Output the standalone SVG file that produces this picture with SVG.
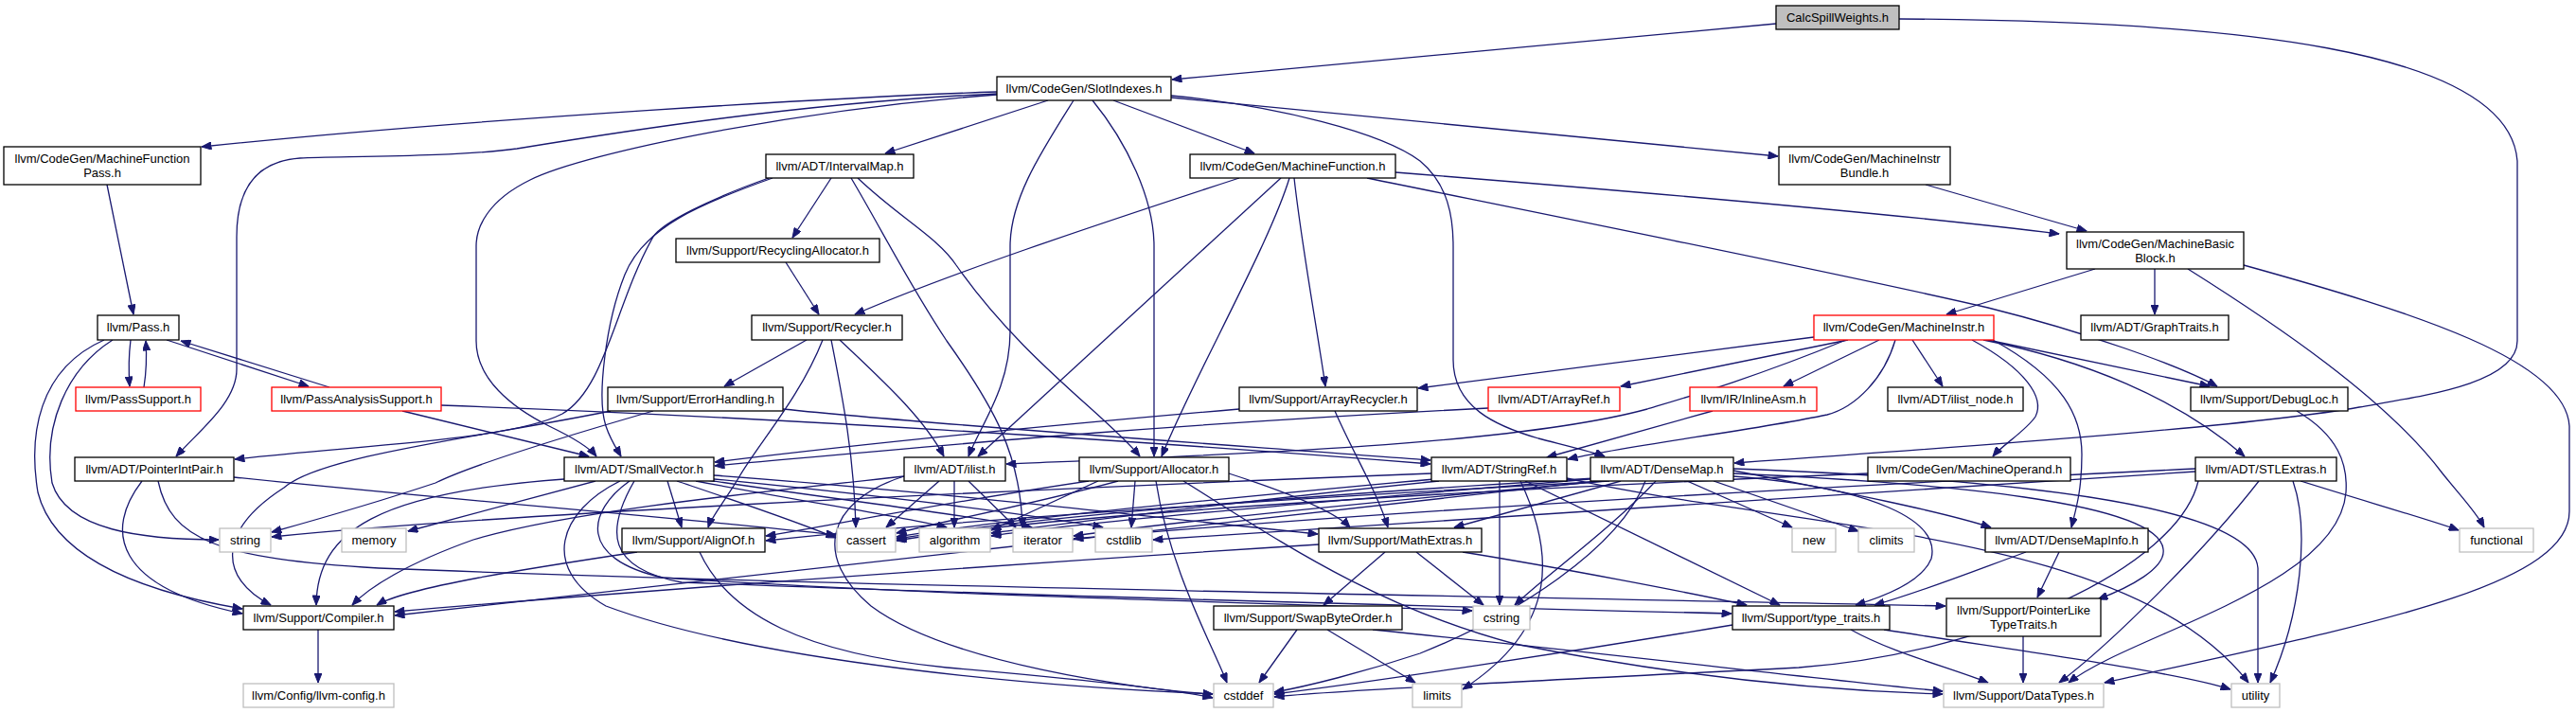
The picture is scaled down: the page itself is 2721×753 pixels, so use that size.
<svg xmlns="http://www.w3.org/2000/svg" width="2721" height="753" viewBox="0 0 2721 753">
<style>
.n rect{fill:#fff;stroke:#000;stroke-width:1.3}
.r rect{fill:#fff;stroke:#ff0000;stroke-width:1.3}
.g rect{fill:#fff;stroke:#bfbfbf;stroke-width:1.3}
.s rect{fill:#bfbfbf;stroke:#000;stroke-width:1.3}
text{font-family:"Liberation Sans",Arial,sans-serif;font-size:13px;text-anchor:middle;fill:#000}
#edges path{fill:none;stroke:#191970;stroke-width:1.3;marker-end:url(#ah)}
</style>
<defs>
<marker id="ah" viewBox="0 0 10 8" refX="10" refY="4" markerWidth="11" markerHeight="8" markerUnits="userSpaceOnUse" orient="auto"><path d="M0,0L10,4L0,8z" fill="#191970" stroke="#191970"/></marker>
</defs>
<rect width="2721" height="753" fill="#fff"/>
<g id="edges">
<path d="M1876,25 C1600,50 1400,68 1238,84"/>
<path d="M2006,20 C2350,22 2650,50 2659,170 L2659,360 C2659,405 2560,418 2492,430 C2380,450 2100,470 1832,489"/>
<path d="M1053,97 C900,102 500,125 213,155"/>
<path d="M1053,99 C850,108 650,140 546,157 C480,166 360,165 317,167 C270,170 250,200 250,250 L250,390 C250,425 210,455 186,482"/>
<path d="M1053,100 C850,115 620,160 560,190 C515,212 503,240 503,260 L503,360 C503,400 540,430 580,450 C605,462 622,472 630,482"/>
<path d="M1107,106 L935,162"/>
<path d="M1134,106 C1100,160 1067,210 1067,260 L1067,350 C1067,410 1035,450 1023,482"/>
<path d="M1154,106 C1190,150 1219,210 1219,260 L1219,482"/>
<path d="M1176,106 L1325,162"/>
<path d="M1237,101 C1350,112 1460,140 1500,170 C1530,195 1535,230 1535,260 L1535,380 C1535,430 1580,450 1625,463 C1660,472 1685,478 1695,482"/>
<path d="M1237,103 C1500,128 1700,148 1878,165"/>
<path d="M113,195 L141,332"/>
<path d="M878,188 L837,251"/>
<path d="M816,188 C740,215 680,240 660,290 C640,340 630,420 640,450 C645,465 652,475 656,482"/>
<path d="M812,188 C750,210 700,235 690,250 C650,320 640,410 594,437 C540,465 380,470 248,485"/>
<path d="M906,188 C950,230 990,250 1010,280 C1080,380 1170,440 1204,482"/>
<path d="M899,188 C930,240 960,300 1000,360 C1050,430 1078,480 1080,557"/>
<path d="M1309,188 C1150,240 1000,290 903,332"/>
<path d="M1353,188 L1033,482"/>
<path d="M1362,188 C1340,260 1260,400 1227,482"/>
<path d="M1367,188 C1375,260 1390,340 1400,408"/>
<path d="M1474,182 C1700,200 2000,225 2175,247"/>
<path d="M1444,188 C1650,230 1950,290 2100,325 C2200,350 2300,385 2342,408"/>
<path d="M2034,195 L2204,244"/>
<path d="M830,277 L865,332"/>
<path d="M138,359 C136,375 136,395 137,408"/>
<path d="M152,409 C155,390 155,375 154,360"/>
<path d="M176,359 L326,408"/>
<path d="M348,409 L191,360"/>
<path d="M119,359 C70,390 45,450 55,510 C70,560 150,570 231,570"/>
<path d="M110,359 C40,390 30,460 40,520 C60,600 180,630 256,643"/>
<path d="M425,434 L622,482"/>
<path d="M466,428 C800,440 1200,465 1511,490"/>
<path d="M827,432 C1000,450 1300,470 1511,486"/>
<path d="M645,434 C520,460 340,480 300,515 C230,560 230,610 286,639"/>
<path d="M690,434 C600,460 500,490 460,510 C400,530 330,550 287,562"/>
<path d="M852,359 L765,408"/>
<path d="M869,359 C845,420 800,470 780,505 C765,530 752,545 748,557"/>
<path d="M878,359 C890,420 902,480 904,557"/>
<path d="M887,359 C930,400 975,440 997,482"/>
<path d="M1309,432 C1100,450 900,470 755,488"/>
<path d="M1572,431 C1200,450 1000,470 755,492"/>
<path d="M1410,434 C1430,480 1455,520 1466,557"/>
<path d="M1916,356 L1498,410"/>
<path d="M1952,359 L1712,408"/>
<path d="M1985,359 L1884,408"/>
<path d="M2020,359 L2052,408"/>
<path d="M1950,359 C1850,400 1780,420 1740,432 C1600,470 1300,480 1063,490"/>
<path d="M2002,359 C1990,400 1960,430 1930,438 C1850,455 1720,470 1656,485"/>
<path d="M2083,359 C2140,390 2160,420 2150,440 C2140,455 2115,470 2105,482"/>
<path d="M2105,359 C2180,400 2199,440 2199,480 C2199,520 2192,540 2188,557"/>
<path d="M2090,357 L2334,408"/>
<path d="M2095,359 C2200,380 2300,420 2371,482"/>
<path d="M2213,284 L2056,332"/>
<path d="M2276,284 L2276,332"/>
<path d="M2311,284 C2400,340 2520,420 2580,500 C2600,525 2615,540 2624,557"/>
<path d="M2370,280 C2550,330 2710,380 2714,450 L2714,540 C2714,620 2500,660 2223,721"/>
<path d="M2426,434 C2470,460 2480,490 2478,520 C2470,620 2250,670 2185,721"/>
<path d="M1809,434 L1634,483"/>
<path d="M150,508 C110,560 120,620 256,648"/>
<path d="M167,508 C180,570 230,590 400,600 C900,620 1600,630 2055,640"/>
<path d="M247,504 C500,530 700,545 883,565"/>
<path d="M629,508 L431,561"/>
<path d="M596,506 C400,520 335,560 334,639"/>
<path d="M705,508 L720,557"/>
<path d="M715,508 C780,530 840,550 883,568"/>
<path d="M735,508 C850,530 950,545 1000,557"/>
<path d="M740,506 C900,530 1030,545 1090,557"/>
<path d="M745,505 C950,525 1100,545 1165,557"/>
<path d="M754,502 C1000,520 1250,550 1392,564"/>
<path d="M655,508 C590,540 570,600 640,640 C800,700 1100,725 1281,733"/>
<path d="M665,508 C620,540 610,590 700,610 C1000,630 1300,635 1555,645"/>
<path d="M670,508 C640,560 640,600 720,615 C1100,630 1500,640 1829,648"/>
<path d="M992,508 L936,557"/>
<path d="M1008,508 L1008,557"/>
<path d="M1023,508 L1073,557"/>
<path d="M955,503 C870,530 860,590 920,640 C1000,700 1200,728 1281,733"/>
<path d="M955,503 C800,520 600,540 500,570 C430,595 390,620 372,639"/>
<path d="M1150,508 C1000,530 850,560 809,566"/>
<path d="M1181,508 C1100,530 1000,550 947,563"/>
<path d="M1160,508 L1047,560"/>
<path d="M1199,508 L1195,557"/>
<path d="M1221,508 C1235,600 1280,680 1296,721"/>
<path d="M1298,500 C1360,520 1410,540 1426,557"/>
<path d="M1250,508 C1350,570 1450,640 1600,680 C1800,720 1950,730 2052,733"/>
<path d="M1584,508 L1584,639"/>
<path d="M1606,508 C1640,580 1650,660 1545,728"/>
<path d="M1611,508 L1880,639"/>
<path d="M1655,505 C1900,560 2250,560 2375,721"/>
<path d="M1512,500 C1000,520 500,545 287,567"/>
<path d="M1520,508 C1300,530 1150,550 1047,563"/>
<path d="M1515,506 C1250,530 1050,550 947,567"/>
<path d="M1782,508 L1893,557"/>
<path d="M1810,508 L1963,561"/>
<path d="M1749,508 C1700,560 1630,610 1600,639"/>
<path d="M1738,508 C1710,580 1600,650 1500,690 C1440,710 1380,725 1346,731"/>
<path d="M1831,503 C1980,515 2050,550 2040,590 C2030,615 1990,630 1960,639"/>
<path d="M1831,497 C1950,520 2050,540 2103,557"/>
<path d="M1831,500 C2050,510 2280,530 2285,580 C2288,600 2250,620 2216,633"/>
<path d="M1831,495 C2100,505 2380,530 2385,600 L2385,721"/>
<path d="M1712,508 L1536,557"/>
<path d="M1700,508 C1300,530 1000,550 809,571"/>
<path d="M1690,508 C1200,560 700,620 417,650"/>
<path d="M1690,505 C1400,530 1150,550 1047,566"/>
<path d="M1685,505 C1350,525 1100,545 947,569"/>
<path d="M1695,508 C1450,530 1250,550 1134,566"/>
<path d="M1973,500 C1500,520 1100,545 947,571"/>
<path d="M2430,508 C2500,530 2570,550 2597,560"/>
<path d="M2422,508 C2440,560 2430,650 2398,721"/>
<path d="M2386,508 C2330,580 2230,680 2175,721"/>
<path d="M2322,508 C2300,600 2100,690 1900,705 C1600,720 1400,730 1346,736"/>
<path d="M2319,495 C1800,520 1400,545 1134,569"/>
<path d="M2319,498 C1800,530 1400,560 1218,570"/>
<path d="M673,583 C560,600 430,620 398,639"/>
<path d="M739,583 C770,650 850,690 1000,705 C1150,718 1240,728 1281,737"/>
<path d="M1463,583 L1398,639"/>
<path d="M1496,583 L1567,639"/>
<path d="M1545,583 C1650,600 1780,625 1845,639"/>
<path d="M1393,575 C1000,600 600,630 417,646"/>
<path d="M1370,665 L1330,721"/>
<path d="M1402,665 L1495,721"/>
<path d="M1450,665 C1700,690 1900,715 2052,730"/>
<path d="M1830,660 C1650,690 1450,720 1346,733"/>
<path d="M1955,665 C2000,690 2060,705 2100,721"/>
<path d="M1990,665 C2150,690 2300,710 2356,728"/>
<path d="M2175,583 L2152,631"/>
<path d="M2140,583 C2080,605 2030,625 1980,639"/>
<path d="M2137,672 L2137,721"/>
<path d="M336,665 L336,721"/>
</g>
<g id="n_csw" class="s"><rect x="1876" y="6" width="130" height="25"/><text x="1941" y="23">CalcSpillWeights.h</text></g>
<g id="n_si" class="n"><rect x="1053" y="81" width="184" height="25"/><text x="1145" y="98">llvm/CodeGen/SlotIndexes.h</text></g>
<g id="n_mfp" class="n"><rect x="4" y="155" width="208" height="40"/><text x="108" y="172">llvm/CodeGen/MachineFunction</text><text x="108" y="187">Pass.h</text></g>
<g id="n_im" class="n"><rect x="809" y="163" width="156" height="25"/><text x="887" y="180">llvm/ADT/IntervalMap.h</text></g>
<g id="n_mf" class="n"><rect x="1257" y="163" width="217" height="25"/><text x="1365.5" y="180">llvm/CodeGen/MachineFunction.h</text></g>
<g id="n_mib" class="n"><rect x="1879" y="155" width="181" height="40"/><text x="1969.5" y="172">llvm/CodeGen/MachineInstr</text><text x="1969.5" y="187">Bundle.h</text></g>
<g id="n_mbb" class="n"><rect x="2183" y="245" width="187" height="39"/><text x="2276.5" y="262">llvm/CodeGen/MachineBasic</text><text x="2276.5" y="277">Block.h</text></g>
<g id="n_ra" class="n"><rect x="714" y="252" width="215" height="25"/><text x="821.5" y="269">llvm/Support/RecyclingAllocator.h</text></g>
<g id="n_pass" class="n"><rect x="103" y="333" width="86" height="26"/><text x="146" y="350">llvm/Pass.h</text></g>
<g id="n_rec" class="n"><rect x="794" y="333" width="159" height="26"/><text x="873.5" y="350">llvm/Support/Recycler.h</text></g>
<g id="n_mi" class="r"><rect x="1916" y="333" width="190" height="26"/><text x="2011" y="350">llvm/CodeGen/MachineInstr.h</text></g>
<g id="n_gt" class="n"><rect x="2198" y="333" width="156" height="26"/><text x="2276" y="350">llvm/ADT/GraphTraits.h</text></g>
<g id="n_ps" class="r"><rect x="80" y="409" width="132" height="25"/><text x="146" y="426">llvm/PassSupport.h</text></g>
<g id="n_pas" class="r"><rect x="287" y="409" width="179" height="25"/><text x="376.5" y="426">llvm/PassAnalysisSupport.h</text></g>
<g id="n_eh" class="n"><rect x="642" y="409" width="185" height="25"/><text x="734.5" y="426">llvm/Support/ErrorHandling.h</text></g>
<g id="n_ar" class="n"><rect x="1309" y="409" width="188" height="25"/><text x="1403" y="426">llvm/Support/ArrayRecycler.h</text></g>
<g id="n_aref" class="r"><rect x="1572" y="409" width="139" height="25"/><text x="1641.5" y="426">llvm/ADT/ArrayRef.h</text></g>
<g id="n_ia" class="r"><rect x="1785" y="409" width="134" height="25"/><text x="1852" y="426">llvm/IR/InlineAsm.h</text></g>
<g id="n_in" class="n"><rect x="1994" y="409" width="143" height="25"/><text x="2065.5" y="426">llvm/ADT/ilist_node.h</text></g>
<g id="n_dl" class="n"><rect x="2314" y="409" width="166" height="25"/><text x="2397" y="426">llvm/Support/DebugLoc.h</text></g>
<g id="n_pip" class="n"><rect x="79" y="483" width="168" height="25"/><text x="163" y="500">llvm/ADT/PointerIntPair.h</text></g>
<g id="n_sv" class="n"><rect x="596" y="483" width="158" height="25"/><text x="675" y="500">llvm/ADT/SmallVector.h</text></g>
<g id="n_il" class="n"><rect x="955" y="483" width="107" height="25"/><text x="1008.5" y="500">llvm/ADT/ilist.h</text></g>
<g id="n_al" class="n"><rect x="1140" y="483" width="158" height="25"/><text x="1219" y="500">llvm/Support/Allocator.h</text></g>
<g id="n_sr" class="n"><rect x="1512" y="483" width="143" height="25"/><text x="1583.5" y="500">llvm/ADT/StringRef.h</text></g>
<g id="n_dm" class="n"><rect x="1680" y="483" width="151" height="25"/><text x="1755.5" y="500">llvm/ADT/DenseMap.h</text></g>
<g id="n_mo" class="n"><rect x="1973" y="483" width="214" height="25"/><text x="2080" y="500">llvm/CodeGen/MachineOperand.h</text></g>
<g id="n_stl" class="n"><rect x="2319" y="483" width="149" height="25"/><text x="2393.5" y="500">llvm/ADT/STLExtras.h</text></g>
<g id="n_string" class="g"><rect x="232" y="558" width="54" height="25"/><text x="259" y="575">string</text></g>
<g id="n_memory" class="g"><rect x="361" y="558" width="68" height="25"/><text x="395" y="575">memory</text></g>
<g id="n_ao" class="n"><rect x="657" y="558" width="151" height="25"/><text x="732.5" y="575">llvm/Support/AlignOf.h</text></g>
<g id="n_cassert" class="g"><rect x="884" y="558" width="62" height="25"/><text x="915" y="575">cassert</text></g>
<g id="n_algorithm" class="g"><rect x="971" y="558" width="75" height="25"/><text x="1008.5" y="575">algorithm</text></g>
<g id="n_iterator" class="g"><rect x="1070" y="558" width="63" height="25"/><text x="1101.5" y="575">iterator</text></g>
<g id="n_cstdlib" class="g"><rect x="1157" y="558" width="60" height="25"/><text x="1187" y="575">cstdlib</text></g>
<g id="n_me" class="n"><rect x="1393" y="558" width="172" height="25"/><text x="1479" y="575">llvm/Support/MathExtras.h</text></g>
<g id="n_new" class="g"><rect x="1893" y="558" width="46" height="25"/><text x="1916" y="575">new</text></g>
<g id="n_climits" class="g"><rect x="1963" y="558" width="59" height="25"/><text x="1992.5" y="575">climits</text></g>
<g id="n_dmi" class="n"><rect x="2097" y="558" width="172" height="25"/><text x="2183" y="575">llvm/ADT/DenseMapInfo.h</text></g>
<g id="n_functional" class="g"><rect x="2598" y="558" width="78" height="25"/><text x="2637" y="575">functional</text></g>
<g id="n_compiler" class="n"><rect x="257" y="640" width="159" height="25"/><text x="336.5" y="657">llvm/Support/Compiler.h</text></g>
<g id="n_sbo" class="n"><rect x="1282" y="640" width="199" height="25"/><text x="1381.5" y="657">llvm/Support/SwapByteOrder.h</text></g>
<g id="n_cstring" class="g"><rect x="1556" y="640" width="60" height="25"/><text x="1586" y="657">cstring</text></g>
<g id="n_tt" class="n"><rect x="1830" y="640" width="166" height="25"/><text x="1913" y="657">llvm/Support/type_traits.h</text></g>
<g id="n_pltt" class="n"><rect x="2056" y="632" width="163" height="40"/><text x="2137.5" y="649">llvm/Support/PointerLike</text><text x="2137.5" y="664">TypeTraits.h</text></g>
<g id="n_config" class="g"><rect x="257" y="722" width="159" height="25"/><text x="336.5" y="739">llvm/Config/llvm-config.h</text></g>
<g id="n_cstddef" class="g"><rect x="1282" y="722" width="63" height="25"/><text x="1313.5" y="739">cstddef</text></g>
<g id="n_limits" class="g"><rect x="1492" y="722" width="52" height="25"/><text x="1518" y="739">limits</text></g>
<g id="n_dt" class="g"><rect x="2053" y="722" width="169" height="25"/><text x="2137.5" y="739">llvm/Support/DataTypes.h</text></g>
<g id="n_utility" class="g"><rect x="2357" y="722" width="51" height="25"/><text x="2382.5" y="739">utility</text></g>
</svg>
